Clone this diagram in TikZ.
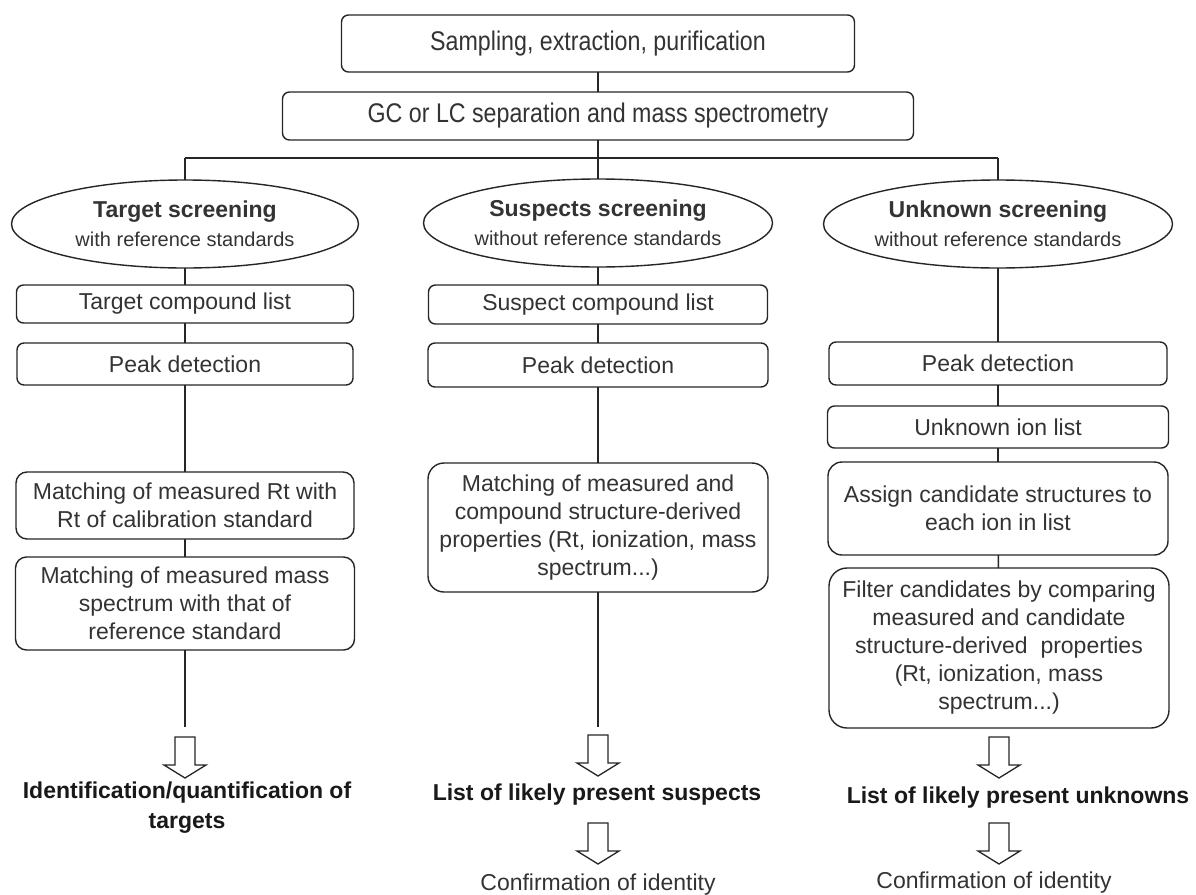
\documentclass[tikz,border=0pt]{standalone}
\usepackage{fontspec}
\setmainfont{Liberation Sans}
\newfontfamily\narrowfont[FakeStretch=0.86]{Liberation Sans}
\usetikzlibrary{shapes.geometric}
\begin{document}
\begin{tikzpicture}[x=1pt,y=-1pt,
  every node/.style={text=black!80, inner sep=0pt, outer sep=0pt},
  box/.style={draw=black!85, line width=1.4pt, rounded corners=7pt, align=center, font=\fontsize{23}{28}\selectfont},
  bigbox/.style={box, rounded corners=14pt},
  topbox/.style={box, font=\narrowfont\fontsize{27}{32}\selectfont},
  oval/.style={ellipse, draw=black!85, line width=1.4pt, minimum width=347pt, minimum height=88pt, align=center, font=\fontsize{23}{27}\selectfont},
  ln/.style={draw=black!85, line width=1.4pt},
  result/.style={align=center, font=\bfseries\fontsize{23}{30}\selectfont, text=black!90},
  plain/.style={align=center, font=\fontsize{23}{28}\selectfont},
  barrow/.pic={\draw[line width=1.3pt, draw=black!85, fill=white] (-10,0) -- (10,0) -- (10,28) -- (21,28) -- (0,41) -- (-21,28) -- (-10,28) -- cycle;}
]
\useasboundingbox[fill=white] (0,0) rectangle (1196,894);

% top
\node[topbox, minimum width=513pt, minimum height=57pt] (samp) at (598,43.5) {Sampling, extraction, purification};
\node[topbox, minimum width=631pt, minimum height=48pt] (gc) at (598,116) {GC or LC separation and mass spectrometry};
\coordinate (hl) at (598,158);
\coordinate (hlL) at (185,158);
\coordinate (hlR) at (998,158);

% ellipses
\node[oval] (ellT) at (185,224) {{\bfseries Target screening}\\[2pt]{\fontsize{20}{24}\selectfont with reference standards}};
\node[oval] (ellS) at (598,223) {{\bfseries Suspects screening}\\[2pt]{\fontsize{20}{24}\selectfont without reference standards}};
\node[oval, minimum width=345pt] (ellU) at (998,224) {{\bfseries Unknown screening}\\[2pt]{\fontsize{20}{24}\selectfont without reference standards}};

% left column
\node[box, minimum width=337pt, minimum height=38pt] (tlist) at (185,304) {Target compound list};
\node[box, minimum width=336pt, minimum height=42pt] (tpeak) at (185,364) {Peak detection};
\node[bigbox, rounded corners=11pt, minimum width=338pt, minimum height=67pt] (trt) at (185,505.5) {Matching of measured Rt with\\Rt of calibration standard};
\node[bigbox, rounded corners=11pt, minimum width=339pt, minimum height=93pt] (tms) at (185,603.5) {Matching of measured mass\\spectrum with that of\\reference standard};
\coordinate (tend) at (185,727);
\pic at (185,737) {barrow};
\node[result] (tres) at (187,808) {Identification/quantification of\\targets};

% middle column
\node[box, minimum width=339pt, minimum height=39pt] (slist) at (598,304.5) {Suspect compound list};
\node[box, minimum width=340pt, minimum height=44pt] (speak) at (598,365) {Peak detection};
\node[bigbox, rounded corners=16pt, minimum width=340pt, minimum height=129pt] (smatch) at (598,527.5) {Matching of measured and\\compound structure-derived\\properties (Rt, ionization, mass\\spectrum...)};
\coordinate (send) at (598,727);
\pic at (598,735) {barrow};
\node[result] (sres) at (597,795) {List of likely present suspects};
\pic at (598,823) {barrow};
\node[plain] (sconf) at (598,885) {Confirmation of identity};

% right column
\node[box, minimum width=338pt, minimum height=43pt] (upeak) at (998,363.5) {Peak detection};
\node[box, minimum width=341pt, minimum height=42pt] (uion) at (998,427) {Unknown ion list};
\node[bigbox, minimum width=340pt, minimum height=93pt] (uassign) at (998,508.5) {Assign candidate structures to\\each ion in list};
\node[bigbox, rounded corners=18pt, minimum width=340pt, minimum height=160pt] (ufilter) at (999,648) {Filter candidates by comparing\\measured and candidate\\structure-derived\ \ properties\\(Rt, ionization, mass\\spectrum...)};
\pic at (999,737) {barrow};
\node[result] (ures) at (1018,798) {List of likely present unknowns};
\pic at (999,823) {barrow};
\node[plain] (uconf) at (994,883) {Confirmation of identity};

% connectors
\draw[ln] (samp) -- (gc);
\draw[ln] (gc) -- (hl);
\draw[ln] (hlL) -- (hlR);
\draw[ln] (hlL) -- (ellT);
\draw[ln] (hl) -- (ellS);
\draw[ln] (hlR) -- (ellU);
\draw[ln] (ellT) -- (tlist);
\draw[ln] (tlist) -- (tpeak);
\draw[ln] (tpeak) -- (trt);
\draw[ln] (trt) -- (tms);
\draw[ln] (tms) -- (tend);
\draw[ln] (ellS) -- (slist);
\draw[ln] (slist) -- (speak);
\draw[ln] (speak) -- (smatch);
\draw[ln] (smatch) -- (send);
\draw[ln] (ellU) -- (upeak);
\draw[ln] (upeak) -- (uion);
\draw[ln] (uion) -- (uassign);
\draw[ln] (uassign) -- (ufilter);
\end{tikzpicture}
\end{document}
